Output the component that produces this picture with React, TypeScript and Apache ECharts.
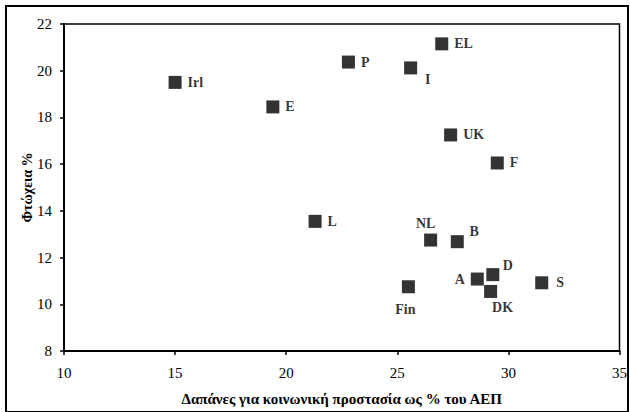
import React, { useEffect, useRef } from "react";
import * as echarts from "echarts";

const countries = ["Irl", "E", "EL", "P", "I", "UK", "F", "L", "NL", "B", "A", "D", "DK", "S", "Fin"];
const spending = [15.0, 19.4, 27.0, 22.8, 25.6, 27.4, 29.5, 21.3, 26.5, 27.7, 28.6, 29.3, 29.2, 31.5, 25.5];
const poverty = [19.5, 18.45, 21.15, 20.37, 20.12, 17.25, 16.05, 13.55, 12.75, 12.68, 11.08, 11.27, 10.55, 10.92, 10.75];

const xTitle = "Δαπάνες για κοινωνική προστασία ως % του ΑΕΠ";
const yTitle = "Φτώχεια %";

const labelPlacement: Record<string, { position: any; offset: number[] }> = {
  Irl: { position: "right", offset: [0, 0] },
  E: { position: "right", offset: [0, 0] },
  EL: { position: "right", offset: [0, 0] },
  P: { position: "right", offset: [0, 0] },
  I: { position: "inside", offset: [17, 12] },
  UK: { position: "right", offset: [0, 0] },
  F: { position: "right", offset: [0, 0] },
  L: { position: "right", offset: [0, 0] },
  NL: { position: "inside", offset: [-5, -17] },
  B: { position: "inside", offset: [17, -10] },
  A: { position: "left", offset: [0, 0] },
  D: { position: "inside", offset: [15, -9] },
  DK: { position: "inside", offset: [12, 16] },
  S: { position: "right", offset: [2, 0] },
  Fin: { position: "inside", offset: [-3, 23] },
};

const FONT = "'Liberation Serif', 'DejaVu Serif', serif";

export default function App() {
  const ref = useRef<HTMLDivElement>(null);
  useEffect(() => {
    if (!ref.current) return;
    const chart = echarts.init(ref.current, null, { renderer: "svg" });
    const data = countries.map((c, i) => ({
      name: c,
      value: [spending[i], poverty[i]],
      label: {
        show: true,
        formatter: c,
        position: labelPlacement[c].position,
        offset: labelPlacement[c].offset,
        distance: 6,
      },
    }));
    chart.setOption({
      animation: false,
      backgroundColor: "#ffffff",
      textStyle: { fontFamily: FONT },
      graphic: [
        {
          type: "rect",
          shape: { x: 6, y: 6, width: 622, height: 406 },
          style: { fill: "none", stroke: "#000", lineWidth: 2 },
          silent: true,
        },
      ],
      grid: {
        left: 64,
        right: 7,
        top: 24,
        bottom: 61,
        show: true,
        borderColor: "#000",
        borderWidth: 1.5,
        backgroundColor: "transparent",
      },
      xAxis: {
        type: "value",
        min: 10,
        max: 35,
        interval: 5,
        name: xTitle,
        nameLocation: "middle",
        nameGap: 40,
        nameMoveOverlap: false,
        nameTextStyle: { fontFamily: FONT, fontWeight: "bold", fontSize: 15, color: "#000" },
        axisLine: { show: true, onZero: false, lineStyle: { color: "#000", width: 2 } },
        axisTick: { show: true, length: 4, lineStyle: { color: "#000", width: 1.5 } },
        axisLabel: { color: "#000", fontSize: 15, fontFamily: FONT, margin: 14 },
        splitLine: { show: false },
      },
      yAxis: {
        type: "value",
        min: 8,
        max: 22,
        interval: 2,
        name: yTitle,
        nameLocation: "middle",
        nameGap: 30,
        nameRotate: 90,
        nameMoveOverlap: false,
        nameTextStyle: { fontFamily: FONT, fontWeight: "bold", fontSize: 14, color: "#000" },
        axisLine: { show: true, onZero: false, lineStyle: { color: "#000", width: 2 } },
        axisTick: { show: true, length: 4, lineStyle: { color: "#000", width: 1.5 } },
        axisLabel: { color: "#000", fontSize: 15, fontFamily: FONT, margin: 12 },
        splitLine: { show: false },
      },
      series: [
        {
          type: "scatter",
          symbol: "rect",
          symbolSize: 13,
          itemStyle: { color: "#000" },
          label: {
            show: true,
            color: "#000",
            fontFamily: FONT,
            fontWeight: "bold",
            fontSize: 14,
          },
          data,
        },
      ],
    });
    return () => chart.dispose();
  }, []);
  return (
    <div
      ref={ref}
      style={{ position: "fixed", left: 0, top: 0, width: 630, height: 412 }}
    />
  );
}
